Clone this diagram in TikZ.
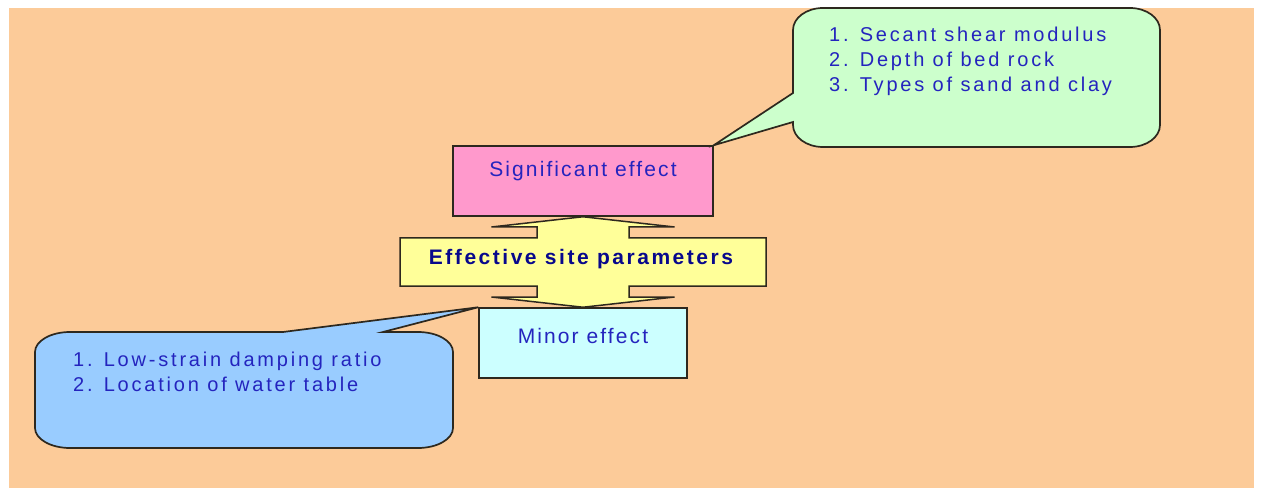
\documentclass[tikz,border=0pt]{standalone}
\usepackage{fontspec}
\setmainfont{Liberation Sans}
\newfontfamily\labfont{Liberation Sans}
\usetikzlibrary{calc}

\definecolor{pagebg}{RGB}{252,203,153}
\definecolor{pinkfill}{RGB}{255,153,204}
\definecolor{yellowfill}{RGB}{255,255,153}
\definecolor{cyanfill}{RGB}{204,255,255}
\definecolor{greenfill}{RGB}{204,255,204}
\definecolor{bluefill}{RGB}{153,204,255}
\definecolor{labtext}{RGB}{36,36,190}
\definecolor{navytext}{RGB}{8,8,140}
\definecolor{edge}{RGB}{45,40,30}

\tikzset{
  effectbox/.style={draw=edge, line width=1.5pt, inner sep=0pt,
    text height=31pt, text depth=39pt, text=labtext,
    font=\labfont\fontsize{21}{25}\selectfont\addfontfeatures{LetterSpace=10}},
  bubble/.style={draw=edge, line width=1.7pt},
  bubbletext/.style={inner sep=0pt, align=left, anchor=base west, text=labtext,
    font=\labfont\fontsize{20}{25}\selectfont\addfontfeatures{LetterSpace=14}},
  crossarrow/.style={draw=edge, line width=1.5pt, fill=yellowfill},
}

\begin{document}
\begin{tikzpicture}[x=1pt, y=1pt]
  % page and backdrop
  \fill[white] (0,0) rectangle (1261,488);
  \useasboundingbox (0,0) rectangle (1261,488);
  \fill[pagebg] (9,0) rectangle (1254,480);

  % the two effect boxes
  \node[effectbox, fill=pinkfill, minimum width=260pt] (sig) at (583,307) {Significant effect};
  \node[effectbox, fill=cyanfill, minimum width=208pt, text height=35pt, text depth=35pt] (minor) at (583,145) {Minor effect};

  % double-headed cross arrow between the boxes
  \draw[crossarrow]
    (sig.south) -- (674.5,261) -- (629,261) -- (629,250) -- (766,250) -- (766,202)
    -- (629,202) -- (629,191) -- (674.5,191) -- (minor.north) -- (491.5,191)
    -- (537,191) -- (537,202) -- (400,202) -- (400,250) -- (537,250)
    -- (537,261) -- (491.5,261) -- cycle;
  \node[text=navytext, inner sep=0pt, anchor=base,
    font=\labfont\bfseries\fontsize{21}{25}\selectfont\addfontfeatures{LetterSpace=12}]
    (esp) at (581,223) {Effective site parameters};

  % callout for the significant parameters
  \draw[bubble, fill=greenfill]
    (793,395) -- (sig.north east) -- (793,366) -- (793,363)
    arc[start angle=180, end angle=270, x radius=30, y radius=22] -- (1130,341)
    arc[start angle=270, end angle=360, x radius=30, y radius=22] -- (1160,458)
    arc[start angle=0, end angle=90, x radius=30, y radius=22] -- (823,480)
    arc[start angle=90, end angle=180, x radius=30, y radius=22] -- cycle;
  \node[bubbletext] (sigtext) at (829,396.3)
    {1. Secant shear modulus\\2. Depth of bed rock\\3. Types of sand and clay};

  % callout for the minor parameters
  \draw[bubble, fill=bluefill]
    (383,156) -- (418,156)
    arc[start angle=90, end angle=0, x radius=35, y radius=20] -- (453,60)
    arc[start angle=0, end angle=-90, x radius=35, y radius=20] -- (70,40)
    arc[start angle=270, end angle=180, x radius=35, y radius=20] -- (35,136)
    arc[start angle=180, end angle=90, x radius=35, y radius=20] -- (283,156)
    -- (minor.north west) -- cycle;
  \node[bubbletext] (minortext) at (73,96.3)
    {1. Low-strain damping ratio\\2. Location of water table};
\end{tikzpicture}
\end{document}
